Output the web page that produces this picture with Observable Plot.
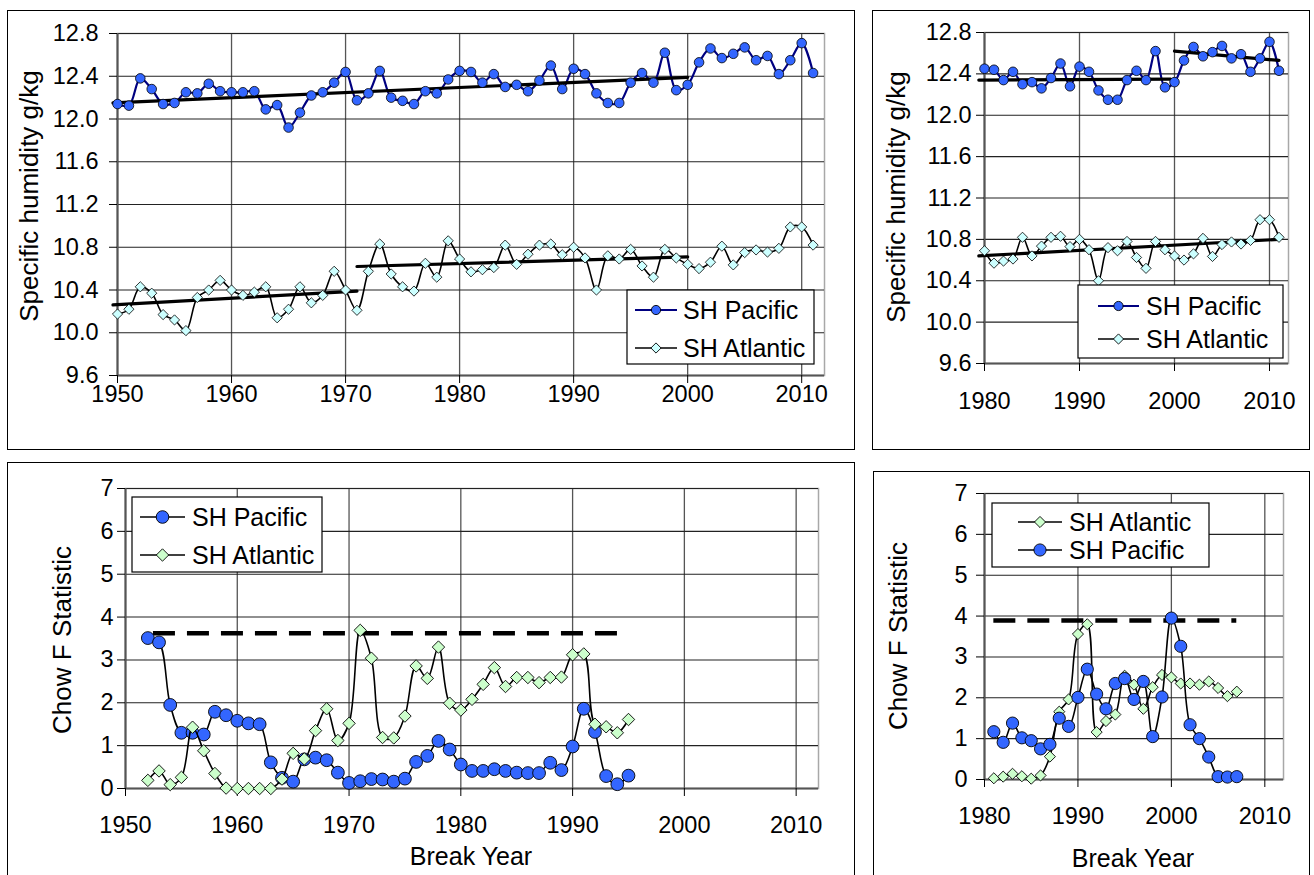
<!DOCTYPE html>
<html><head><meta charset="utf-8">
<script src="https://cdn.jsdelivr.net/npm/d3@7"></script>
<script src="https://cdn.jsdelivr.net/npm/@observablehq/plot@0.6"></script>
<style>
body{margin:0;background:#fff;}
#root{position:relative;width:1314px;height:875px;overflow:hidden;background:#fff;font-family:"Liberation Sans",Arial,sans-serif;}
.border{position:absolute;border:1.5px solid #000;box-sizing:border-box;pointer-events:none;}
</style></head><body><div id="root"></div>
<script>
// ---------- data ----------
const years = d3.range(1950, 2012);
const pacificSH = [12.14,12.125,12.38,12.28,12.14,12.15,12.25,12.24,12.33,12.26,
  12.25,12.25,12.26,12.09,12.13,11.92,12.06,12.22,12.25,12.34,
  12.44,12.175,12.24,12.45,12.20,12.17,12.14,12.26,12.24,12.37,
  12.45,12.44,12.34,12.42,12.30,12.32,12.26,12.36,12.50,12.28,
  12.47,12.42,12.24,12.15,12.15,12.34,12.43,12.34,12.62,12.27,
  12.32,12.53,12.66,12.57,12.61,12.67,12.55,12.59,12.42,12.55,
  12.71,12.43];
const atlanticSH = [10.175,10.22,10.43,10.37,10.17,10.12,10.02,10.33,10.40,10.49,
  10.40,10.35,10.38,10.43,10.14,10.22,10.43,10.28,10.35,10.575,
  10.40,10.21,10.575,10.83,10.55,10.43,10.39,10.65,10.52,10.86,
  10.69,10.57,10.59,10.61,10.82,10.64,10.735,10.82,10.83,10.73,
  10.80,10.70,10.40,10.72,10.69,10.78,10.625,10.52,10.78,10.70,
  10.64,10.60,10.66,10.81,10.635,10.75,10.775,10.755,10.79,10.99,
  10.99,10.82];

// trend segments [year, value]
const trendPacificTL = [[1949.6,12.15],[2000,12.39]];
const trendAtlanticTL1 = [[1949.6,10.26],[1971,10.39]];
const trendAtlanticTL2 = [[1971,10.62],[2000,10.71]];
const trendPacificTR1 = [[1979.4,12.34],[1999.6,12.35]];
const trendPacificTR2 = [[2000,12.62],[2011,12.53]];
const trendAtlanticTR = [[1979.4,10.64],[2011,10.80]];

// Chow F statistics
const breakYearsBL = d3.range(1952, 1996);
const chowPacificBL = [3.51,3.41,1.95,1.30,1.30,1.26,1.79,1.71,1.58,1.52,
  1.50,0.61,0.25,0.16,0.68,0.72,0.66,0.37,0.13,0.17,
  0.22,0.21,0.16,0.23,0.62,0.76,1.11,0.91,0.56,0.41,
  0.41,0.45,0.41,0.37,0.36,0.36,0.60,0.43,0.98,1.86,
  1.32,0.29,0.10,0.30];
const chowAtlanticBL = [0.19,0.41,0.09,0.26,1.43,0.88,0.35,0.01,0.0,0.0,
  0.0,0.0,0.22,0.82,0.69,1.35,1.86,1.12,1.52,3.69,
  3.04,1.19,1.18,1.69,2.86,2.57,3.30,1.99,1.83,2.08,
  2.43,2.82,2.38,2.59,2.59,2.47,2.59,2.60,3.12,3.14,
  1.50,1.44,1.30,1.61];
const criticalBL = {from: 1952.5, to: 1995, value: 3.62};

const breakYearsBR = d3.range(1981, 2008);
const chowPacificBR = [1.17,0.91,1.38,1.02,0.95,0.75,0.86,1.50,1.30,2.01,
  2.70,2.09,1.73,2.35,2.47,1.96,2.40,1.05,2.02,3.95,
  3.26,1.34,1.00,0.55,0.07,0.06,0.07];
const chowAtlanticBR = [0.03,0.07,0.14,0.08,0.02,0.10,0.56,1.66,1.96,3.56,
  3.80,1.16,1.43,1.59,2.54,2.32,1.73,2.26,2.56,2.50,
  2.35,2.35,2.32,2.40,2.24,2.04,2.15];
const criticalBR = {from: 1981, to: 2007, value: 3.89};

const xTicksLong = [1950,1960,1970,1980,1990,2000,2010];
const xTicksShort = [1980,1990,2000,2010];
const yTicksHum = [9.6,10.0,10.4,10.8,11.2,11.6,12.0,12.4,12.8];
const yTicksF = [0,1,2,3,4,5,6,7];

// ---------- helpers ----------
const FONT = '"Liberation Sans", Arial, sans-serif';
const BLUE = "#3366ff", NAVY = "#000080", CYAN = "#ccffff", MINT = "#ccffcc";
const TICK_FS = 23.5, TITLE_FS = 26, XTITLE_FS = 25, LEGEND_FS = 25;
const root = document.getElementById("root");

const toRows = (xs, vs) => xs.map((x, i) => ({x, v: vs[i]}));
const seg = (pts, id) => pts.map(([x, v]) => ({x, v, id}));

function panel(cfg) {
  const {left, top, width, height, box} = cfg;
  const chart = Plot.plot({
    width, height,
    marginLeft: box[0] - left, marginRight: left + width - box[2],
    marginTop: box[1] - top, marginBottom: top + height - box[3],
    x: {domain: cfg.xDomain},
    y: {domain: cfg.yDomain},
    style: {fontFamily: FONT, fontSize: TICK_FS + "px", color: "#000", background: "transparent", overflow: "visible"},
    marks: [
      Plot.frame({stroke: "#a8a8a8", strokeWidth: 1.5}),
      Plot.gridX(cfg.xTicks, {stroke: "#555", strokeOpacity: 1, strokeWidth: 1.3}),
      Plot.gridY(cfg.yTicks, {stroke: "#222", strokeOpacity: 1, strokeWidth: 1.1}),
      Plot.ruleX([cfg.xDomain[0]], {stroke: "#555", strokeWidth: 2}),
      Plot.ruleY([cfg.yDomain[0]], {stroke: "#555", strokeWidth: 2}),
      Plot.axisX(cfg.xTicks, {tickSize: 8, tickPadding: cfg.xPad, tickFormat: d => String(d), label: null, fontSize: TICK_FS}),
      Plot.axisY(cfg.yTicks, {tickSize: 8, tickPadding: cfg.yPad, tickFormat: cfg.yFormat, label: null, fontSize: TICK_FS}),
      ...cfg.marks
    ]
  });
  chart.style.position = "absolute";
  chart.style.left = left + "px";
  chart.style.top = top + "px";
  chart.style.maxWidth = "none";
  root.appendChild(chart);
  const b = document.createElement("div");
  b.className = "border";
  Object.assign(b.style, {left: left + "px", top: top + "px", width: width + "px", height: (cfg.borderH || height) + "px"});
  root.appendChild(b);

  const svg = d3.select(chart);
  const g = svg.append("g").attr("transform", `translate(${-left},${-top})`)
    .attr("font-family", FONT).attr("text-anchor", "start");
  if (cfg.yTitle) {
    g.append("text").attr("transform", `translate(${cfg.yTitle.x},${cfg.yTitle.y}) rotate(-90)`)
      .attr("text-anchor", "middle").attr("dy", "0.35em").attr("font-size", TITLE_FS).attr("fill", "#000").text(cfg.yTitle.text);
  }
  if (cfg.xTitle) {
    g.append("text").attr("x", cfg.xTitle.x).attr("y", cfg.xTitle.y)
      .attr("text-anchor", "middle").attr("dy", "0.35em").attr("font-size", XTITLE_FS).attr("fill", "#000").text(cfg.xTitle.text);
  }
  const L = cfg.legend;
  if (L) {
    g.append("rect").attr("x", L.x0).attr("y", L.y0).attr("width", L.x1 - L.x0).attr("height", L.y1 - L.y0)
      .attr("fill", "#fff").attr("stroke", "#000").attr("stroke-width", 1.2);
    L.items.forEach(it => {
      g.append("line").attr("x1", L.lx0).attr("x2", L.lx1).attr("y1", it.y).attr("y2", it.y)
        .attr("stroke", it.line).attr("stroke-width", it.lw);
      const cx = (L.lx0 + L.lx1) / 2;
      if (it.symbol === "circle") {
        g.append("circle").attr("cx", cx).attr("cy", it.y).attr("r", it.r)
          .attr("fill", it.fill).attr("stroke", "#000").attr("stroke-width", 0.9);
      } else {
        const h = it.r * 1.11;
        g.append("path").attr("d", `M${cx},${it.y - h}L${cx + h},${it.y}L${cx},${it.y + h}L${cx - h},${it.y}Z`)
          .attr("fill", it.fill).attr("stroke", "#000").attr("stroke-width", 0.9);
      }
      g.append("text").attr("x", L.tx).attr("y", it.y).attr("dy", "0.36em").attr("font-size", LEGEND_FS)
        .attr("text-anchor", "start").attr("fill", "#000").text(it.label);
    });
  }
}

function humidityMarks(pac, atl, trends, r) {
  return [
    Plot.line(atl, {x: "x", y: "v", stroke: "#000", strokeWidth: 1.6, curve: "catmull-rom"}),
    Plot.line(pac, {x: "x", y: "v", stroke: NAVY, strokeWidth: 2.2, curve: "catmull-rom"}),
    Plot.line(trends, {x: "x", y: "v", z: "id", stroke: "#000", strokeWidth: 3.2}),
    Plot.dot(atl, {x: "x", y: "v", symbol: "diamond2", r: r.d, fill: CYAN, stroke: "#000", strokeWidth: 0.8}),
    Plot.dot(pac, {x: "x", y: "v", symbol: "circle", r: r.c, fill: BLUE, stroke: "#000", strokeWidth: 0.8})
  ];
}

// ---------- top-left ----------
const pacAll = toRows(years, pacificSH);
const atlAll = toRows(years, atlanticSH);
const trendTL = [...seg(trendPacificTL, "p"), ...seg(trendAtlanticTL1, "a1"), ...seg(trendAtlanticTL2, "a2")];
panel({
  left: 7, top: 10, width: 848, height: 440, box: [117, 33, 824, 375],
  xDomain: [1950, 2012], yDomain: [9.6, 12.8], xTicks: xTicksLong, yTicks: yTicksHum,
  yFormat: d3.format(".1f"), xPad: 2, yPad: 11,
  marks: humidityMarks(pacAll, atlAll, trendTL, {c: 4.8, d: 4.6}),
  yTitle: {x: 29, y: 196, text: "Specific humidity g/kg"},
  legend: {x0: 627, y0: 290, x1: 814, y1: 364, lx0: 635, lx1: 677, tx: 683,
    items: [{label: "SH Pacific", y: 310, line: NAVY, lw: 2, symbol: "circle", r: 4.6, fill: BLUE},
            {label: "SH Atlantic", y: 348, line: "#000", lw: 1.5, symbol: "diamond", r: 4.6, fill: CYAN}]}
});

// ---------- top-right ----------
const pacRecent = pacAll.filter(d => d.x >= 1980);
const atlRecent = atlAll.filter(d => d.x >= 1980);
const trendTR = [...seg(trendPacificTR1, "p1"), ...seg(trendPacificTR2, "p2"), ...seg(trendAtlanticTR, "a")];
panel({
  left: 872, top: 10, width: 438, height: 440, box: [984, 32, 1288, 363],
  xDomain: [1980, 2012], yDomain: [9.6, 12.8], xTicks: xTicksShort, yTicks: yTicksHum,
  yFormat: d3.format(".1f"), xPad: 21, yPad: 5,
  marks: humidityMarks(pacRecent, atlRecent, trendTR, {c: 4.8, d: 4.6}),
  yTitle: {x: 896, y: 197, text: "Specific humidity g/kg"},
  legend: {x0: 1078, y0: 285, x1: 1283, y1: 358, lx0: 1098, lx1: 1139, tx: 1146,
    items: [{label: "SH Pacific", y: 306, line: NAVY, lw: 2, symbol: "circle", r: 4.6, fill: BLUE},
            {label: "SH Atlantic", y: 339, line: "#000", lw: 1.5, symbol: "diamond", r: 4.6, fill: CYAN}]}
});

// ---------- bottom-left ----------
const pacBL = toRows(breakYearsBL, chowPacificBL);
const atlBL = toRows(breakYearsBL, chowAtlanticBL);
panel({
  left: 7, top: 462, width: 848, height: 413, borderH: 440, box: [125, 488, 818, 788],
  xDomain: [1950, 2012], yDomain: [0, 7], xTicks: xTicksLong, yTicks: yTicksF,
  yFormat: d => String(d), xPad: 20, yPad: 4,
  marks: [
    Plot.ruleY([criticalBL.value], {x1: criticalBL.from, x2: criticalBL.to, stroke: "#000", strokeWidth: 4.5, strokeDasharray: "22,12"}),
    Plot.line(pacBL, {x: "x", y: "v", stroke: "#000", strokeWidth: 1.6, curve: "catmull-rom"}),
    Plot.dot(pacBL, {x: "x", y: "v", symbol: "circle", r: 6.4, fill: BLUE, stroke: "#000", strokeWidth: 0.9}),
    Plot.line(atlBL, {x: "x", y: "v", stroke: "#000", strokeWidth: 1.6, curve: "catmull-rom"}),
    Plot.dot(atlBL, {x: "x", y: "v", symbol: "diamond2", r: 5.6, fill: MINT, stroke: "#000", strokeWidth: 0.9})
  ],
  yTitle: {x: 62, y: 640, text: "Chow F Statistic"},
  xTitle: {x: 471, y: 856, text: "Break Year"},
  legend: {x0: 132, y0: 497, x1: 322, y1: 572, lx0: 140, lx1: 185, tx: 192,
    items: [{label: "SH Pacific", y: 517, line: "#000", lw: 1.5, symbol: "circle", r: 6.3, fill: BLUE},
            {label: "SH Atlantic", y: 555, line: "#000", lw: 1.5, symbol: "diamond", r: 5.6, fill: MINT}]}
});

// ---------- bottom-right ----------
const pacBR = toRows(breakYearsBR, chowPacificBR);
const atlBR = toRows(breakYearsBR, chowAtlanticBR);
panel({
  left: 873, top: 471, width: 437, height: 404, borderH: 440, box: [984, 493, 1283, 779],
  xDomain: [1980, 2012], yDomain: [0, 7], xTicks: xTicksShort, yTicks: yTicksF,
  yFormat: d => String(d), xPad: 20, yPad: 9,
  marks: [
    Plot.ruleY([criticalBR.value], {x1: criticalBR.from, x2: criticalBR.to, stroke: "#000", strokeWidth: 4.5, strokeDasharray: "22,12"}),
    Plot.line(atlBR, {x: "x", y: "v", stroke: "#000", strokeWidth: 1.6, curve: "catmull-rom"}),
    Plot.dot(atlBR, {x: "x", y: "v", symbol: "diamond2", r: 5, fill: MINT, stroke: "#000", strokeWidth: 0.9}),
    Plot.line(pacBR, {x: "x", y: "v", stroke: "#000", strokeWidth: 1.6, curve: "catmull-rom"}),
    Plot.dot(pacBR, {x: "x", y: "v", symbol: "circle", r: 6.1, fill: BLUE, stroke: "#000", strokeWidth: 0.9})
  ],
  yTitle: {x: 898, y: 636, text: "Chow F Statistic"},
  xTitle: {x: 1133, y: 858, text: "Break Year"},
  legend: {x0: 992, y0: 503, x1: 1209, y1: 567, lx0: 1018, lx1: 1062, tx: 1069,
    items: [{label: "SH Atlantic", y: 522, line: "#000", lw: 1.5, symbol: "diamond", r: 5, fill: MINT},
            {label: "SH Pacific", y: 550, line: "#000", lw: 1.5, symbol: "circle", r: 6.1, fill: BLUE}]}
});
</script></body></html>
